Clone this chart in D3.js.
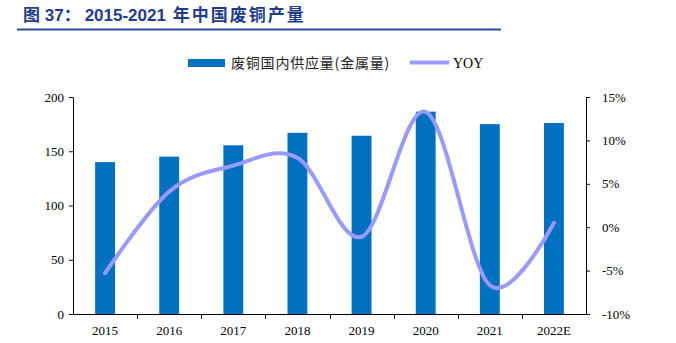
<!DOCTYPE html>
<html><head><meta charset="utf-8">
<script src="https://cdn.jsdelivr.net/npm/d3@7"></script>
<style>
body{margin:0;background:#fff;}
svg{display:block;}
</style></head>
<body><svg id="c" width="676" height="343"></svg>
<script>
const categories = ["2015","2016","2017","2018","2019","2020","2021","2022E"];
const supply = [140, 145, 155.5, 167, 164.3, 186.5, 175, 176];
const yoy = [-5.3, 4.1, 7.1, 8.0, -1.1, 13.3, -6.7, 0.5];
const leftTicks = [0, 50, 100, 150, 200];
const rightTicks = [-10, -5, 0, 5, 10, 15];
const titleParts = ["图", " 37：", "2015-2021", " 年中国废铜产量"];
const seriesNames = ["废铜国内供应量(金属量)", "YOY"];

const svg = d3.select("#c");
const L = 73, R = 586, T = 97, B = 314;
const serif = "'Liberation Serif','Times New Roman',serif";
const cjk = "'Noto Sans CJK SC',sans-serif";

// title
const tt = svg.append("text").attr("x", 23).attr("y", 21)
  .attr("font-family", "'Liberation Sans',Arial,'Noto Sans CJK SC',sans-serif")
  .attr("font-weight", "bold").attr("font-size", 17).attr("fill", "#1f3d8c");
tt.append("tspan").text(titleParts[0]);
tt.append("tspan").text(titleParts[1]);
tt.append("tspan").attr("dx", 4).text(titleParts[2]);
tt.append("tspan").attr("letter-spacing", 2).text(titleParts[3]);
svg.append("line").attr("x1", 17).attr("x2", 501).attr("y1", 29.5).attr("y2", 29.5)
  .attr("stroke", "#2c4a9c").attr("stroke-width", 2);

const x = d3.scaleBand().domain(categories).range([L, R]).paddingInner(0.69).paddingOuter(0.345);
const xg = d3.scaleBand().domain(categories).range([L, R]);
const yL = d3.scaleLinear().domain([0, 200]).range([B, T]);
const yR = d3.scaleLinear().domain([-10, 15]).range([B, T]);

// bars
svg.append("g").selectAll("rect").data(categories).join("rect")
  .attr("x", d => x(d)).attr("width", x.bandwidth())
  .attr("y", (d, i) => yL(supply[i])).attr("height", (d, i) => B - yL(supply[i]))
  .attr("fill", "#0070c0");

// line
const line = d3.line()
  .x((d, i) => xg(categories[i]) + xg.bandwidth() / 2)
  .y(d => yR(d))
  .curve(d3.curveCardinal.tension(0));
svg.append("path").datum(yoy).attr("d", line)
  .attr("fill", "none").attr("stroke", "#9999ff").attr("stroke-width", 4)
  .attr("stroke-linecap", "round");

// left axis
const la = svg.append("g").attr("transform", `translate(${L},0)`)
  .call(d3.axisLeft(yL).tickValues(leftTicks).tickSize(4).tickSizeOuter(0).tickPadding(5));
la.selectAll("text").attr("font-family", serif).attr("font-size", 13).attr("fill", "#000");
la.select(".domain").attr("stroke", "#000");
la.selectAll(".tick line").attr("stroke", "#000");

// right axis
const ra = svg.append("g").attr("transform", `translate(${R},0)`)
  .call(d3.axisRight(yR).tickValues(rightTicks).tickFormat(d => d + "%").tickSize(4).tickSizeOuter(0).tickPadding(12));
ra.selectAll("text").attr("font-family", serif).attr("font-size", 13).attr("fill", "#000");
ra.select(".domain").attr("stroke", "#000");
ra.selectAll(".tick line").attr("stroke", "#000");

// bottom axis
const ba = svg.append("g").attr("transform", `translate(0,${B})`);
ba.append("line").attr("x1", L).attr("x2", R).attr("y1", 0.5).attr("y2", 0.5).attr("stroke", "#000");
ba.selectAll("line.tk").data(categories.slice(1)).join("line").attr("class", "tk")
  .attr("x1", d => Math.round(xg(d)) + 0.5).attr("x2", d => Math.round(xg(d)) + 0.5)
  .attr("y1", 0).attr("y2", 5).attr("stroke", "#000");
ba.selectAll("text").data(categories).join("text")
  .attr("x", d => xg(d) + xg.bandwidth() / 2).attr("y", 21)
  .attr("text-anchor", "middle").attr("font-family", serif).attr("font-size", 13).attr("fill", "#000")
  .text(d => d);

// legend
const lg = svg.append("g");
lg.append("rect").attr("x", 188).attr("y", 59).attr("width", 37).attr("height", 8).attr("fill", "#0070c0");
lg.append("text").attr("x", 231).attr("y", 68).attr("font-family", cjk).attr("font-size", 14)
  .attr("letter-spacing", 0.8).attr("fill", "#222").text(seriesNames[0]);
lg.append("line").attr("x1", 410).attr("x2", 449).attr("y1", 62.5).attr("y2", 62.5)
  .attr("stroke", "#9999ff").attr("stroke-width", 4);
lg.append("text").attr("x", 453).attr("y", 68).attr("font-family", serif).attr("font-size", 14)
  .attr("fill", "#000").text(seriesNames[1]);
</script></body></html>
